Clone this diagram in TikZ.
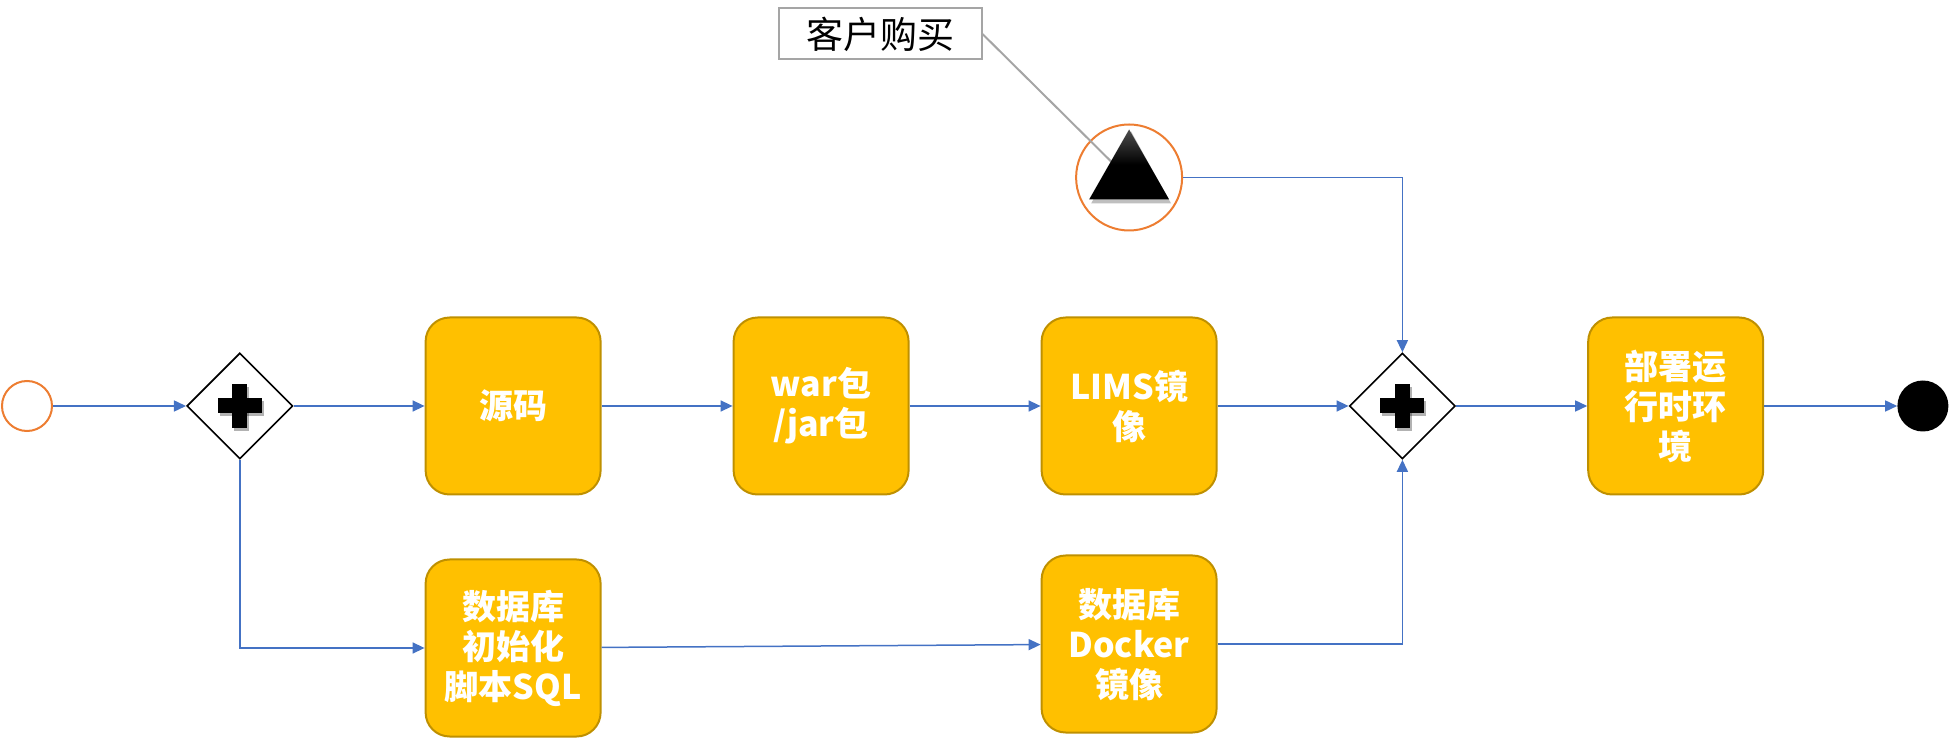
\documentclass[tikz,border=0pt]{standalone}
\usepackage{fontspec}
\usepackage{xcolor}
\usepackage{tikz}
\usetikzlibrary{arrows.meta, positioning, shapes.geometric}
\newfontfamily\cjk{Noto Sans CJK SC}
\definecolor{taskfill}{HTML}{FFC000}
\definecolor{taskline}{HTML}{BF9000}
\definecolor{flowblue}{HTML}{4472C4}
\definecolor{eventorange}{HTML}{ED7D31}
\definecolor{notegray}{HTML}{A5A5A5}
\newcommand{\gatecross}[1]{%
    \fill[black, opacity=0.3] ([shift={(-20,-10.5)}]#1.center) rectangle ([shift={(24,4.5)}]#1.center);
    \fill[black, opacity=0.3] ([shift={(-5.5,-25)}]#1.center) rectangle ([shift={(9.5,19)}]#1.center);
    \fill[black] ([shift={(-22,-7.5)}]#1.center) rectangle ([shift={(22,7.5)}]#1.center);
    \fill[black] ([shift={(-7.5,-22)}]#1.center) rectangle ([shift={(7.5,22)}]#1.center);%
}

\begin{document}
\begin{tikzpicture}[
        x=1pt, y=1pt,
        node distance=131pt,
        task/.style={
            draw=taskline,
            fill=taskfill,
            line width=2pt,
            rounded corners=24pt,
            minimum width=175pt,
            minimum height=177pt,
            inner sep=0pt,
            align=center,
            text=white,
            font=\cjk\bfseries\fontsize{34}{40}\selectfont
        },
        gate/.style={diamond, draw=black, fill=white, line width=1.6pt,
            aspect=1, minimum size=106pt, inner sep=0pt},
        startevent/.style={circle, draw=eventorange, line width=2pt, minimum size=50pt, inner sep=0pt},
        endevent/.style={circle, fill=black, minimum size=51pt, inner sep=0pt},
        flow/.style={-{Triangle[length=12pt, width=11pt]}, line width=1.5pt, draw=flowblue},
        note/.style={draw=notegray, line width=2pt, fill=white, minimum width=203pt,
            minimum height=51pt, inner sep=0pt, font=\cjk\fontsize{37}{40}\selectfont}
    ]
        \useasboundingbox (0,0) rectangle (1951,739);

        % main row
        \node[startevent] (start) at (27,333) {};
        \node[gate, right=133pt of start] (gwsplit) {};
        \node[task, right=of gwsplit] (source) {源码};
        \node[task, right=of source] (package) {war包\\/jar包};
        \node[task, right=of package] (lims) {LIMS镜\\像};
        \node[gate, right=of lims] (gwjoin) {};
        \node[task, right=of gwjoin] (deploy) {部署运\\行时环\\境};
        \node[endevent, right=133pt of deploy] (finish) {};

        % database branch
        \node[task, below=63pt of source] (sqlscript) {数据库\\初始化\\脚本SQL};
        \node[task, below=59pt of lims] (dbimage) {数据库\\Docker\\镜像};

        % purchase event
        \node[circle, draw=eventorange, fill=white, line width=2pt, minimum size=106pt,
            inner sep=0pt, above=85pt of lims] (buyevent) {};
        \node[note] (buynote) at (880,705) {客户购买};
        \coordinate (noteend) at ([shift={(-18,16)}]buyevent.center);
        \draw[notegray, line width=2pt] (buynote.east) -- (noteend);
        \fill[black!25] ([shift={(-38,-26)}]buyevent.center) -- ([shift={(42,-26)}]buyevent.center)
            -- ([shift={(2,46)}]buyevent.center) -- cycle;
        \shade[top color=black!70, bottom color=black, middle color=black]
            ([shift={(0,48)}]buyevent.center) -- ([shift={(-40,-22)}]buyevent.center)
            -- ([shift={(40,-22)}]buyevent.center) -- cycle;

        \gatecross{gwsplit}
        \gatecross{gwjoin}

        \draw[flow] (start) -- (gwsplit);
        \draw[flow] (gwsplit) -- (source);
        \draw[flow] (source) -- (package);
        \draw[flow] (package) -- (lims);
        \draw[flow] (lims) -- (gwjoin);
        \draw[flow] (gwjoin) -- (deploy);
        \draw[flow] (deploy) -- (finish);
        \draw[flow] (gwsplit) |- (sqlscript);
        \draw[flow] (sqlscript) -- (dbimage);
        \draw[flow] (dbimage) -| (gwjoin);
        \draw[flow] (buyevent) -| (gwjoin);
    \end{tikzpicture}
\end{document}
